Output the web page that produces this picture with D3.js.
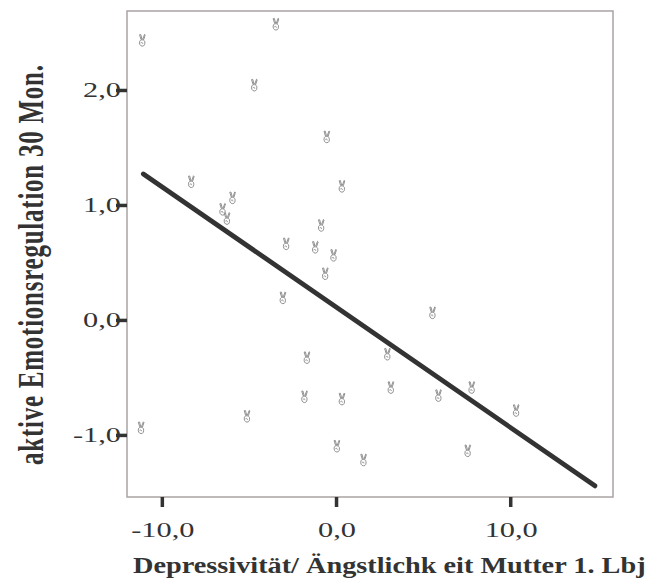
<!DOCTYPE html>
<html>
<head>
<meta charset="utf-8">
<script src="https://cdn.jsdelivr.net/npm/d3@7"></script>
<style>
  body { margin: 0; background: #fff; }
  text { font-family: "Liberation Serif", "Times New Roman", serif; fill: #333; }
</style>
</head>
<body>
<div id="wrapper"></div>
<script>
// scatter values (x = Depressivität, y = Emotionsregulation)
const depressivity = [-11.13, -3.46, -4.70, -0.54, 0.33, -8.32, -5.95, -6.52, -6.27, -0.86,
  -2.87, -1.20, -0.15, -0.63, -3.06, -1.68, 2.94, 3.14, -1.82, 0.33,
  -5.12, 0.04, 1.57, -11.20, 5.53, 5.87, 7.78, 10.33, 7.55]
const emotionRegulation = [2.43, 2.57, 2.04, 1.59, 1.16, 1.20, 1.06, 0.96, 0.88, 0.82,
  0.66, 0.63, 0.56, 0.40, 0.19, -0.33, -0.30, -0.59, -0.67, -0.69,
  -0.84, -1.10, -1.22, -0.94, 0.06, -0.66, -0.59, -0.79, -1.14]

// fitted line endpoints
const fitX = [-11.06, 14.86]
const fitY = [1.27, -1.443]

const xTicks = [-10, 0, 10]
const yTicks = [-1, 0, 1, 2]

const xTitle = "Depressivität/ Ängstlichk eit Mutter 1. Lbj"
const yTitle = "aktive Emotionsregulation 30 Mon."

const width = 654
const height = 583
const margin = { top: 11, right: 41, bottom: 86, left: 127 }
const boundWidth = width - margin.left - margin.right
const boundHeight = height - margin.top - margin.bottom
const stretch = 1.38 // the original text is drawn wider than it is tall

const fmt = v => d3.format(".1f")(v).replace(".", ",").replace("−", "-")

const svg = d3.select("#wrapper").append("svg")
    .attr("width", width)
    .attr("height", height)

const bound = svg.append("g")
    .attr("transform", `translate(${margin.left},${margin.top})`)

const xScale = d3.scaleLinear().domain([-12, 15.9]).range([0, boundWidth])
const yScale = d3.scaleLinear().domain([-1.54, 2.687]).range([boundHeight, 0])

// frame
bound.append("rect")
    .attr("width", boundWidth)
    .attr("height", boundHeight)
    .attr("fill", "none")
    .attr("stroke", "#aaa3a3")
    .attr("stroke-width", 1.5)

// tick marks from d3 axes, labels drawn by hand so they can be stretched
const xAxis = bound.append("g")
    .attr("transform", `translate(0,${boundHeight})`)
    .call(d3.axisBottom(xScale).tickValues(xTicks).tickSize(10).tickFormat(""))
const yAxis = bound.append("g")
    .call(d3.axisLeft(yScale).tickValues(yTicks).tickSize(11).tickFormat(""))

;[xAxis, yAxis].forEach(ax => {
  ax.select(".domain").remove()
  ax.selectAll(".tick line").attr("stroke", "#333").attr("stroke-width", 3.5)
})

bound.append("g").selectAll("text")
  .data(xTicks)
  .join("text")
    .attr("transform", d => `translate(${xScale(d) + 1},${boundHeight + 40}) scale(${stretch},1)`)
    .attr("text-anchor", "middle")
    .attr("font-size", 22)
    .text(fmt)

bound.append("g").selectAll("text")
  .data(yTicks)
  .join("text")
    .attr("transform", d => `translate(-6,${yScale(d) + 7.5}) scale(${stretch},1)`)
    .attr("text-anchor", "end")
    .attr("font-size", 22)
    .text(fmt)

// points: small victory-hand marker
const hand = "M-2.6,-5.8 L-1.2,-1.2 L-0.2,-1.4 L-1.4,-6 Z M2.4,-6.2 L0.6,-1.4 L1.6,-1 L3,-5.6 Z " +
  "M-2.4,0.6 C-3.2,3.2 -2,5.6 0.2,5.6 C2.4,5.6 3,3.4 2.6,1 C2.2,-1 -1.6,-1.4 -2.4,0.6 Z " +
  "M-1.4,2.4 C-0.4,1.6 0.8,2 0.6,3.2"
const points = depressivity.map((d, i) => ({ x: d, y: emotionRegulation[i] }))
bound.append("g").selectAll("path")
  .data(points)
  .join("path")
    .attr("transform", d => `translate(${xScale(d.x)},${yScale(d.y)})`)
    .attr("d", hand)
    .attr("fill", "#fff")
    .attr("stroke", "#858585")
    .attr("stroke-width", 0.9)

// regression line
const line = d3.line().x(d => xScale(d[0])).y(d => yScale(d[1]))
bound.append("path")
    .datum(fitX.map((x, i) => [x, fitY[i]]))
    .attr("d", line)
    .attr("fill", "none")
    .attr("stroke", "#333")
    .attr("stroke-width", 4.8)
    .attr("stroke-linecap", "round")

// titles
svg.append("text")
    .attr("transform", `translate(133,573) scale(1.23,1)`)
    .attr("font-size", 23)
    .attr("font-weight", "bold")
    .text(xTitle)

svg.append("text")
    .attr("transform", `translate(43,265) scale(1.4,1) rotate(-90)`)
    .attr("text-anchor", "middle")
    .attr("textLength", 400)
    .attr("lengthAdjust", "spacing")
    .attr("font-size", 25)
    .attr("font-weight", "bold")
    .text(yTitle)
</script>
</body>
</html>
